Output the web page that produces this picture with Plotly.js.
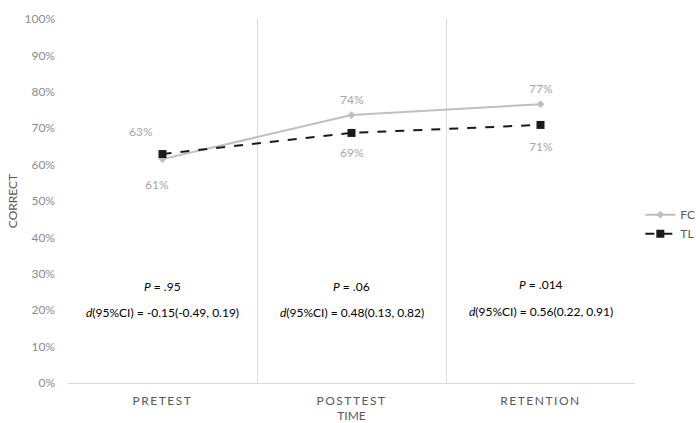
<!DOCTYPE html>
<html>
<head>
<meta charset="utf-8">
<script src="https://cdn.plot.ly/plotly-3.0.1.min.js"></script>
<style>
body{margin:0;background:#fff;}
#chart{width:696px;height:423px;}
.xtick text{letter-spacing:1.5px;}
</style>
</head>
<body>
<div id="chart"></div>
<script>
const categories = ['PRETEST', 'POSTTEST', 'RETENTION'];
const fcValues = [0.615, 0.736, 0.766];
const tlValues = [0.629, 0.687, 0.709];
const fcLabels = ['61%', '74%', '77%'];
const tlLabels = ['63%', '69%', '71%'];
const pTexts = ['<i>P</i> = .95', '<i>P</i> = .06', '<i>P</i> = .014'];
const dTexts = ['<i>d</i>(95%CI) = -0.15(-0.49, 0.19)', '<i>d</i>(95%CI) = 0.48(0.13, 0.82)', '<i>d</i>(95%CI) = 0.56(0.22, 0.91)'];
const pY = [0.265, 0.265, 0.27];
const dY = [0.195, 0.195, 0.197];

const FONT = 'Lato, "Open Sans", sans-serif';
const labelColor = '#A6A6A6';

const traces = [
  {
    x: categories, y: fcValues, name: 'FC', type: 'scatter', mode: 'lines+markers',
    legendgroup: 'fc',
    line: {color: '#BFBFBF', width: 2},
    marker: {symbol: 'diamond', size: 6, color: '#BFBFBF'}
  },
  {
    x: categories, y: tlValues, name: 'TL', type: 'scatter', mode: 'lines+markers',
    legendgroup: 'tl',
    line: {color: '#1a1a1a', width: 2, dash: 'dash'},
    marker: {symbol: 'square', size: 8, color: '#1a1a1a'}
  }
];

const annotations = [];
const fcShift = [[-6, -25], [0, 16], [0, 16]];
const tlShift = [[-22, 23], [0, -20], [0, -22]];
categories.forEach((c, i) => {
  annotations.push({x: c, y: fcValues[i], text: fcLabels[i], showarrow: false,
    xshift: fcShift[i][0], yshift: fcShift[i][1], font: {family: FONT, size: 12, color: labelColor}});
  annotations.push({x: c, y: tlValues[i], text: tlLabels[i], showarrow: false,
    xshift: tlShift[i][0], yshift: tlShift[i][1], font: {family: FONT, size: 12, color: labelColor}});
  annotations.push({x: c, y: pY[i], text: pTexts[i], showarrow: false,
    font: {family: FONT, size: 12, color: '#000'}});
  annotations.push({x: c, y: dY[i], text: dTexts[i], showarrow: false,
    font: {family: FONT, size: 12, color: '#000'}});
});

const layout = {
  width: 696, height: 423,
  margin: {l: 68, r: 61, t: 19, b: 40, autoexpand: false},
  paper_bgcolor: '#fff', plot_bgcolor: '#fff',
  font: {family: FONT, size: 12, color: '#595959'},
  showlegend: true,
  legend: {xref: 'container', yref: 'container', x: 0.92, y: 0.47, xanchor: 'left', yanchor: 'middle',
    font: {family: FONT, size: 12, color: '#595959'}, bgcolor: 'rgba(0,0,0,0)', tracegroupgap: 5,
    traceorder: 'normal'},
  xaxis: {
    type: 'category', range: [-0.5, 2.5], tickson: 'boundaries',
    showgrid: true, gridcolor: '#D9D9D9', gridwidth: 1,
    showline: true, linecolor: '#D9D9D9', linewidth: 1,
    ticks: '', ticklabelstandoff: 7,
    tickfont: {family: FONT, size: 12, color: '#595959'},
    title: {text: 'TIME', font: {family: FONT, size: 12, color: '#595959'}, standoff: 12},
    automargin: false,
    fixedrange: true
  },
  yaxis: {
    range: [0, 1], dtick: 0.1, tickformat: '.0%',
    showgrid: false, zeroline: false, showline: false,
    ticks: '', ticklabelstandoff: 12,
    tickfont: {family: FONT, size: 12, color: '#8C8C8C'},
    title: {text: 'CORRECT', font: {family: FONT, size: 12, color: '#595959'}, standoff: 4},
    automargin: false,
    fixedrange: true
  },
  annotations: annotations
};

Plotly.newPlot('chart', traces, layout, {displayModeBar: false, staticPlot: true});
</script>
</body>
</html>
